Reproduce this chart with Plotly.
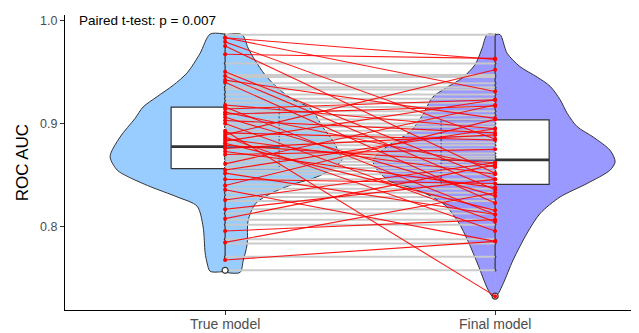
import plotly.graph_objects as go

# ---------------- data ----------------
categories = ["True model", "Final model"]
y_tick_vals = [0.8, 0.9, 1.0]
y_tick_labels = ["0.8", "0.9", "1.0"]
annotation_text = "Paired t-test: p = 0.007"
y_title = "ROC AUC"

# replicates where the selected final model equals the true model (same AUC)
same_auc = [0.986, 0.958, 0.947, 0.945, 0.939, 0.935, 0.933, 0.928, 0.924, 0.920,
            0.916, 0.912, 0.908, 0.904, 0.900, 0.897, 0.893, 0.889, 0.886, 0.882,
            0.879, 0.875, 0.871, 0.868, 0.866, 0.863, 0.860, 0.857, 0.854, 0.851,
            0.846, 0.841, 0.837, 0.833, 0.829, 0.825, 0.817, 0.813, 0.807, 0.802,
            0.788, 0.784, 0.771, 0.758]

# replicates where the final model differs from the true model
true_changed = [0.983, 0.983, 0.979, 0.975, 0.967, 0.950, 0.946, 0.942, 0.940, 0.918,
                0.916, 0.914, 0.911, 0.909, 0.906, 0.903, 0.900, 0.893, 0.891, 0.889,
                0.887, 0.885, 0.883, 0.881, 0.879, 0.876, 0.873, 0.870, 0.861, 0.855,
                0.852, 0.846, 0.840, 0.836, 0.826, 0.817, 0.808, 0.796, 0.785, 0.768]
final_changed = [0.962, 0.931, 0.885, 0.852, 0.963, 0.846, 0.836, 0.905, 0.823, 0.895,
                 0.812, 0.923, 0.858, 0.917, 0.830, 0.891, 0.805, 0.733, 0.884, 0.952,
                 0.796, 0.851, 0.923, 0.816, 0.862, 0.889, 0.838, 0.875, 0.918, 0.895,
                 0.812, 0.842, 0.904, 0.786, 0.862, 0.846, 0.860, 0.807, 0.833, 0.786]

# box-plot statistics
true_box = {"q1": 0.8563, "median": 0.8777, "q3": 0.9158, "lower": 0.768, "upper": 0.986}
final_box = {"q1": 0.8412, "median": 0.8648, "q3": 0.9035, "lower": 0.758, "upper": 0.986}
true_outliers = [0.758]
final_outliers = [0.733]

# violin density profiles (AUC grid, half-width density), top -> bottom
true_outer_y = [0.9865, 0.968, 0.949, 0.937, 0.926, 0.916, 0.905, 0.887, 0.868, 0.855,
                0.849, 0.839, 0.829, 0.820, 0.800, 0.775, 0.765, 0.757]
true_outer_d = [15, 25, 38, 52, 68, 82, 90, 105, 115, 108, 98, 75, 48, 28, 22, 20, 18, 15]
true_inner_y = [0.986, 0.973, 0.961, 0.947, 0.934, 0.923, 0.915, 0.896, 0.883, 0.870,
                0.865, 0.857, 0.851, 0.846, 0.841, 0.831, 0.822, 0.806, 0.783, 0.767, 0.756]
true_inner_d = [17, 23, 30, 40, 53, 68, 85, 98, 108, 115, 117, 108, 98, 85, 67, 43, 30,
                23, 22, 18, 15]
final_inner_y = [0.986, 0.973, 0.957, 0.944, 0.934, 0.925, 0.909, 0.892, 0.880, 0.870,
                 0.863, 0.854, 0.844, 0.838, 0.831, 0.821, 0.805, 0.786, 0.763, 0.741, 0.733]
final_inner_d = [8, 13, 20, 33, 50, 63, 72, 85, 105, 118, 122, 117, 105, 85, 67, 50, 37,
                 27, 17, 8, 3]
final_outer_y = [0.986, 0.968, 0.955, 0.945, 0.936, 0.923, 0.910, 0.897, 0.887, 0.874,
                 0.863, 0.855, 0.842, 0.829, 0.813, 0.794, 0.768, 0.745, 0.734]
final_outer_d = [5, 12, 25, 42, 55, 65, 72, 82, 98, 115, 120, 115, 92, 65, 45, 32, 18, 8, 2]

# ---------------- style ----------------
POS = {"True model": 1, "Final model": 2}
VIOLIN_SCALE = 1 / 270.0
BOX_HALF = 0.2
DARK = "#333333"
TRUE_FILL = "rgba(51,153,255,0.5)"
FINAL_FILL = "rgba(51,51,255,0.5)"
FONT = "Liberation Sans, Arial, sans-serif"

fig = go.Figure()


def add_half_violin(center, ys, dens, side, fill):
    xs = [center] + [center + side * d * VIOLIN_SCALE for d in dens] + [center]
    yy = [ys[0]] + list(ys) + [ys[-1]]
    fig.add_trace(go.Scatter(x=xs, y=yy, mode="lines", fill="toself", fillcolor=fill,
                             line=dict(color=DARK, width=1, shape="spline", smoothing=0.8),
                             hoverinfo="skip", showlegend=False))


def add_box(center, st):
    x0, x1 = center - BOX_HALF, center + BOX_HALF
    fig.add_trace(go.Scatter(x=[x0, x1, x1, x0, x0],
                             y=[st["q1"], st["q1"], st["q3"], st["q3"], st["q1"]],
                             mode="lines", fill="toself", fillcolor="white",
                             line=dict(color=DARK, width=1.2), hoverinfo="skip",
                             showlegend=False))
    fig.add_trace(go.Scatter(x=[x0, x1], y=[st["median"], st["median"]], mode="lines",
                             line=dict(color=DARK, width=2.6), hoverinfo="skip",
                             showlegend=False))


def add_whiskers(center, st):
    fig.add_trace(go.Scatter(x=[center, center, None, center, center],
                             y=[st["q3"], st["upper"], None, st["q1"], st["lower"]],
                             mode="lines", line=dict(color=DARK, width=1.2),
                             hoverinfo="skip", showlegend=False))


c_true, c_final = POS["True model"], POS["Final model"]

# outer halves
add_half_violin(c_true, true_outer_y, true_outer_d, -1, TRUE_FILL)
add_half_violin(c_final, final_outer_y, final_outer_d, 1, FINAL_FILL)
# boxes
add_box(c_true, true_box)
add_box(c_final, final_box)
# inner halves
add_half_violin(c_true, true_inner_y, true_inner_d, 1, TRUE_FILL)
add_half_violin(c_final, final_inner_y, final_inner_d, -1, FINAL_FILL)
# whiskers
add_whiskers(c_true, true_box)
add_whiskers(c_final, final_box)

# all points
all_true = same_auc + true_changed
all_final = same_auc + final_changed
fig.add_trace(go.Scatter(x=[c_true] * len(all_true) + [c_final] * len(all_final),
                         y=all_true + all_final, mode="markers",
                         marker=dict(color=DARK, size=2.5), hoverinfo="skip",
                         showlegend=False))

# gray lines (unchanged)
gx, gy = [], []
for v in same_auc:
    gx += [c_true, c_final, None]
    gy += [v, v, None]
fig.add_trace(go.Scatter(x=gx, y=gy, mode="lines",
                         line=dict(color="rgba(200,200,200,0.95)", width=2),
                         hoverinfo="skip", showlegend=False))

# outliers
fig.add_trace(go.Scatter(x=[c_true] * len(true_outliers) + [c_final] * len(final_outliers),
                         y=true_outliers + final_outliers, mode="markers",
                         marker=dict(symbol="circle", size=6, color="white",
                                     line=dict(color=DARK, width=1.2)),
                         hoverinfo="skip", showlegend=False))

# red lines (changed)
rx, ry = [], []
for a, b in zip(true_changed, final_changed):
    rx += [c_true, c_final, None]
    ry += [a, b, None]
fig.add_trace(go.Scatter(x=rx, y=ry, mode="lines",
                         line=dict(color="rgba(255,0,0,0.9)", width=1.1),
                         hoverinfo="skip", showlegend=False))
fig.add_trace(go.Scatter(x=[c_true] * len(true_changed) + [c_final] * len(final_changed),
                         y=true_changed + final_changed, mode="markers",
                         marker=dict(color="red", size=4), hoverinfo="skip",
                         showlegend=False))

fig.add_annotation(x=0.451, y=1.0, xref="x", yref="y", text=annotation_text,
                   showarrow=False, xanchor="left", yanchor="middle",
                   font=dict(family=FONT, size=13.5, color="black"))
fig.add_annotation(x=-0.074, y=0.5, xref="paper", yref="paper", text=y_title,
                   textangle=-90, showarrow=False, xanchor="center", yanchor="middle",
                   font=dict(family=FONT, size=17, color="black"))
# category labels under the x axis
for c in categories:
    fig.add_annotation(x=POS[c], y=0, xref="x", yref="paper", text=c, showarrow=False,
                       xanchor="center", yanchor="top", yshift=-4,
                       font=dict(family=FONT, size=14, color="#4D4D4D"))

# page body has an 8px default margin: plot area placed so it lands at x 65-635, y 15-310
fig.update_layout(
    width=639, height=333,
    margin=dict(l=57, r=12, t=7, b=31, autoexpand=False),
    paper_bgcolor="white", plot_bgcolor="white",
    font=dict(family=FONT),
    xaxis=dict(range=[0.407, 2.518], tickvals=[POS[c] for c in categories],
               showticklabels=False, showgrid=False, zeroline=False, automargin=False,
               showline=True, linecolor="black", linewidth=1,
               ticks="outside", ticklen=4, tickcolor=DARK),
    yaxis=dict(range=[0.7196, 1.005], tickvals=y_tick_vals, ticktext=y_tick_labels,
               showgrid=False, zeroline=False, showline=True, linecolor="black",
               linewidth=1, ticks="outside", ticklen=4, tickcolor=DARK, automargin=False,
               tickfont=dict(size=12.5, color="#4D4D4D")),
)

fig.write_html("out.html")
